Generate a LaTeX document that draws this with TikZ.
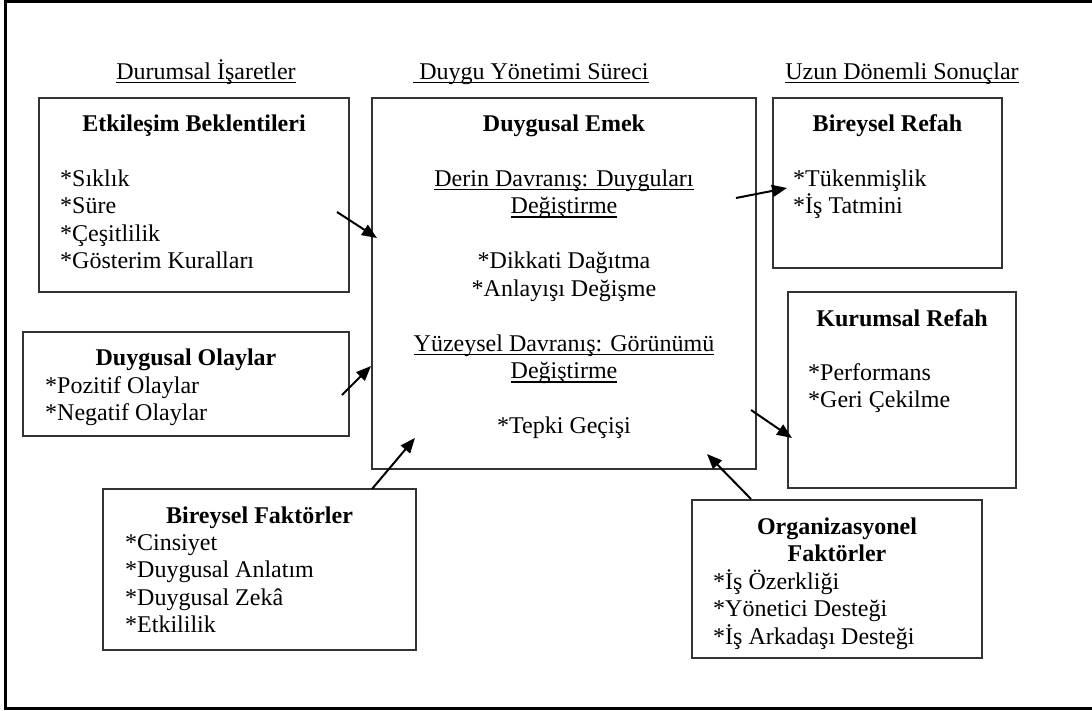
\documentclass[tikz,border=0pt]{standalone}
\usepackage{fontspec}
\setmainfont{Liberation Serif}
\usetikzlibrary{arrows.meta}
% underline with a fixed distance below the baseline
\newcommand{\ulined}[1]{\leavevmode\setbox0=\hbox{#1}\rlap{\vrule width \wd0 height -2.6pt depth 4.2pt}\box0}
\begin{document}
\begin{tikzpicture}[x=1pt,y=-1pt,
  box/.style={draw=black!80, line width=1.3pt, anchor=north west, inner sep=0pt, outer sep=0pt},
  txt/.style={font=\fontsize{24}{27.5}\selectfont, inner sep=0pt},
  ttl/.style={txt, font=\fontsize{24}{27.5}\selectfont\bfseries, anchor=base},
  items/.style={txt, align=left, anchor=base west},
  mid/.style={txt, align=center, anchor=base},
  flow/.style={line width=2pt, -{Triangle[length=15pt,width=12pt]}}]
\useasboundingbox (0,0) rectangle (1092,710);

% open frame
\draw[line width=2.5pt] (1092,1.5) -- (5.5,1.5) -- (5.5,708.5) -- (1092,708.5);

% column headings
\node[txt, anchor=base] (h1) at (206,79) {\ulined{Durumsal İşaretler}};
\node[txt, anchor=base] (h2) at (531,79) {\ulined{\ Duygu Yönetimi Süreci}};
\node[txt, anchor=base] (h3) at (902,79) {\ulined{Uzun Dönemli Sonuçlar}};

% boxes
\node[box, minimum width=310pt, minimum height=194pt] (etk) at (39,98) {};
\node[box, minimum width=326pt, minimum height=104pt] (ola) at (23,332) {};
\node[box, minimum width=384pt, minimum height=371pt] (emek) at (372,98) {};
\node[box, minimum width=229pt, minimum height=170pt] (brf) at (773,98) {};
\node[box, minimum width=228pt, minimum height=196pt] (krf) at (788,292) {};
\node[box, minimum width=313pt, minimum height=161pt] (bfk) at (103,489) {};
\node[box, minimum width=290pt, minimum height=158pt] (ofk) at (692,500) {};

% multi-line texts are placed by the baseline of their last line
% Etkileşim Beklentileri
\node[ttl] (etkT) at (194,131) {Etkileşim Beklentileri};
\node[items] (etkL) at (60,268.5) {*Sıklık\\*Süre\\*Çeşitlilik\\*Gösterim Kuralları};

% Duygusal Olaylar
\node[ttl] (olaT) at (186,365) {Duygusal Olaylar};
\node[items] (olaL) at (45,420.5) {*Pozitif Olaylar\\*Negatif Olaylar};

% Duygusal Emek
\node[ttl] (emekT) at (564,131) {Duygusal Emek};
\node[mid] (emekD) at (564,213.5) {\ulined{Derin Davranış: Duyguları}\\\ulined{Değiştirme}};
\node[mid] (emekDL) at (564,296) {*Dikkati Dağıtma\\*Anlayışı Değişme};
\node[mid] (emekY) at (564,378.5) {\ulined{Yüzeysel Davranış: Görünümü}\\\ulined{Değiştirme}};
\node[mid] (emekYL) at (564,433.5) {*Tepki Geçişi};

% Bireysel Refah
\node[ttl] (brfT) at (887.5,131) {Bireysel Refah};
\node[items] (brfL) at (793,213.5) {*Tükenmişlik\\*İş Tatmini};

% Kurumsal Refah
\node[ttl] (krfT) at (902,326) {Kurumsal Refah};
\node[items] (krfL) at (808,407.5) {*Performans\\*Geri Çekilme};

% Bireysel Faktörler
\node[ttl] (bfkT) at (259.5,523) {Bireysel Faktörler};
\node[items] (bfkL) at (125,632.5) {*Cinsiyet\\*Duygusal Anlatım\\*Duygusal Zekâ\\*Etkililik};

% Organizasyonel Faktörler
\node[ttl, align=center] (ofkT) at (837,561.5) {Organizasyonel\\Faktörler};
\node[items] (ofkL) at (713,644) {*İş Özerkliği\\*Yönetici Desteği\\*İş Arkadaşı Desteği};

% arrow end points
\coordinate (a1s) at (337,212); \coordinate (a1e) at (377,238);
\coordinate (a2s) at (342,395); \coordinate (a2e) at (371,366);
\coordinate (a3s) at (372,489); \coordinate (a3e) at (415,438);
\coordinate (a4s) at (751,499); \coordinate (a4e) at (707,454);
\coordinate (a5s) at (736,198); \coordinate (a5e) at (787,188);
\coordinate (a6s) at (751,410); \coordinate (a6e) at (792,438);

\draw[flow] (a1s) -- (a1e);
\draw[flow] (a2s) -- (a2e);
\draw[flow] (a3s) -- (a3e);
\draw[flow] (a4s) -- (a4e);
\draw[flow] (a5s) -- (a5e);
\draw[flow] (a6s) -- (a6e);
\end{tikzpicture}
\end{document}
